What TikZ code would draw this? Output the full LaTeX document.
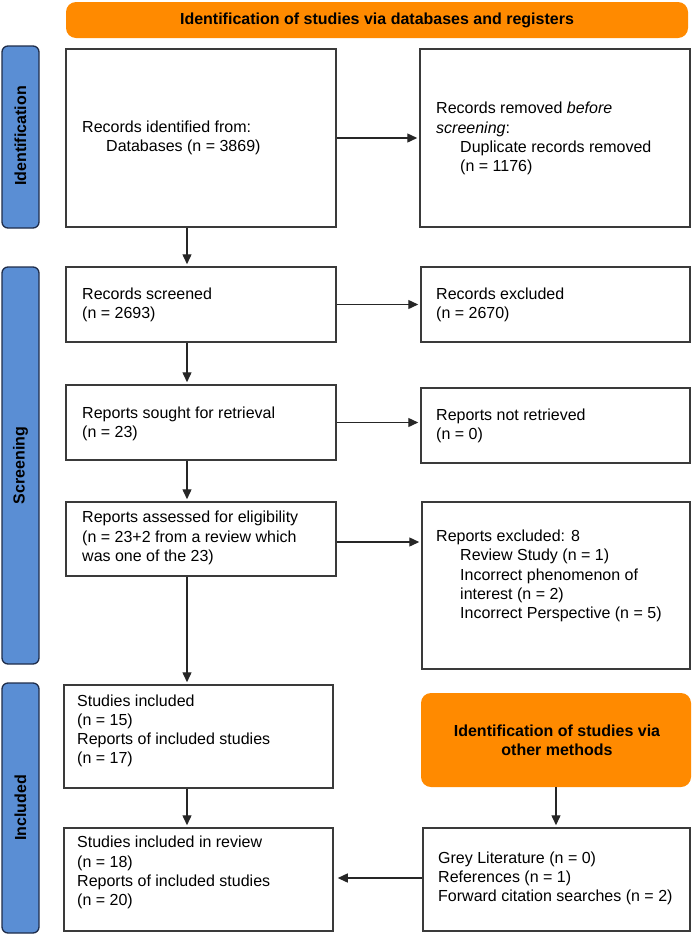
\documentclass[tikz,border=0pt]{standalone}
\usepackage{fontspec}
\setmainfont{Liberation Sans}
\usetikzlibrary{arrows.meta,calc}
\definecolor{orng}{HTML}{FF8A00}
\definecolor{lblue}{HTML}{5A8ED4}
\definecolor{lbord}{HTML}{1F2D4A}
\definecolor{bord}{HTML}{3A3A3A}
\begin{document}
\begin{tikzpicture}[x=1pt,y=-1pt,
  box/.style={draw=bord,line width=1.5pt,fill=white,inner sep=0pt},
  txt/.style={anchor=west,align=left,inner sep=0pt,font=\fontsize{16}{19.2}\selectfont},
  side/.style={fill=lblue,draw=lbord,line width=1.3pt,rounded corners=6pt},
  sidetxt/.style={rotate=90,font=\fontsize{16}{19.2}\selectfont\bfseries,text=black},
  orbox/.style={fill=orng,rounded corners=10pt,inner sep=0pt},
  arr/.style={line width=1.4pt,draw=black!85,-{Triangle[length=10pt,width=9pt]},shorten >=2pt}]
\useasboundingbox (0,0) rectangle (692,935);
\newcommand{\ind}{\hspace*{24pt}}
% banner
\node[orbox,minimum width=622pt,minimum height=36pt] (ban) at (377,20) {};
\node[font=\fontsize{16}{19.2}\selectfont\bfseries] (bant) at (377,20) {Identification of studies via databases and registers};
% side labels
\node[side,minimum width=37pt,minimum height=182pt] (l1) at (20.5,137) {};
\node[sidetxt] (l1t) at (20.5,136) {Identification};
\node[side,minimum width=37pt,minimum height=397pt] (l2) at (20.5,465.5) {};
\node[sidetxt] (l2t) at (20.5,465.5) {Screening};
\node[side,minimum width=37pt,minimum height=250pt] (l3) at (20.5,808) {};
\node[sidetxt] (l3t) at (20.5,808) {Included};
% boxes
\node[box,minimum width=270pt,minimum height=178pt] (b1) at (201,138) {};
\node[box,minimum width=270pt,minimum height=178pt] (b2) at (555,138) {};
\node[box,minimum width=270pt,minimum height=75pt] (b3) at (201,304.5) {};
\node[box,minimum width=269pt,minimum height=75pt] (b4) at (555.5,304.5) {};
\node[box,minimum width=270pt,minimum height=75pt] (b5) at (201,422.5) {};
\node[box,minimum width=269pt,minimum height=75pt] (b6) at (555.5,425.5) {};
\node[box,minimum width=270pt,minimum height=74pt] (b7) at (201,539) {};
\node[box,minimum width=268pt,minimum height=167pt] (b8) at (556,585.5) {};
\node[box,minimum width=269pt,minimum height=103pt] (b9) at (198.5,736.5) {};
\node[orbox,minimum width=270pt,minimum height=94pt] (o2) at (556,740) {};
\node[box,minimum width=269pt,minimum height=103pt] (b10) at (198.5,879.5) {};
\node[box,minimum width=267pt,minimum height=103pt] (b11) at (556.5,879.5) {};
% texts
\node[txt] (t1) at (82,138) {Records identified from:\\\ind Databases (n = 3869)};
\node[txt] (t2) at (436,138.5) {Records removed \textit{before}\\\textit{screening}:\\\ind Duplicate records removed\\\ind (n = 1176)};
\node[txt] (t3) at (82,305) {Records screened\\(n = 2693)};
\node[txt] (t4) at (436,305) {Records excluded\\(n = 2670)};
\node[txt] (t5) at (82,423.5) {Reports sought for retrieval\\(n = 23)};
\node[txt] (t6) at (436,425.5) {Reports not retrieved\\(n = 0)};
\node[txt] (t7) at (82,538) {Reports assessed for eligibility\\(n = 23+2 from a review which\\was one of the 23)};
\node[txt] (t8) at (436,576) {Reports excluded: 8\\\ind Review Study (n = 1)\\\ind Incorrect phenomenon of\\\ind interest (n = 2)\\\ind Incorrect Perspective (n = 5)};
\node[txt] (t9) at (77,731) {Studies included\\(n = 15)\\Reports of included studies\\(n = 17)};
\node[txt] (t10) at (77,872.5) {Studies included in review\\(n = 18)\\Reports of included studies\\(n = 20)};
\node[txt] (t11) at (438,878.5) {Grey Literature (n = 0)\\References (n = 1)\\Forward citation searches (n = 2)};
\node[align=center,inner sep=0pt,font=\fontsize{16}{19.2}\selectfont\bfseries] (to2) at (557,740.5) {Identification of studies via\\other methods};
% arrows
\coordinate (ax) at (187,0);
\draw[arr] (b1.east) -- (b2.west);
\draw[arr] (b3.east) -- (b3.east -| b4.west);
\draw[arr] (b5.east) -- (b5.east -| b6.west);
\draw[arr] ($(b7.east)+(0,3)$) -- ($(b7.east -| b8.west)+(0,3)$);
\draw[arr] (b1.south -| ax) -- (b3.north -| ax);
\draw[arr] (b3.south -| ax) -- (b5.north -| ax);
\draw[arr] (b5.south -| ax) -- (b7.north -| ax);
\draw[arr] (b7.south -| ax) -- (b9.north -| ax);
\draw[arr] (b9.south -| ax) -- (b10.north -| ax);
\draw[arr] (o2.south) -- (b11.north -| o2.south);
\draw[arr,shorten >=4pt] ($(b11.west)+(0,-1.5)$) -- ($(b11.west -| b10.east)+(0,-1.5)$);
\end{tikzpicture}
\end{document}
